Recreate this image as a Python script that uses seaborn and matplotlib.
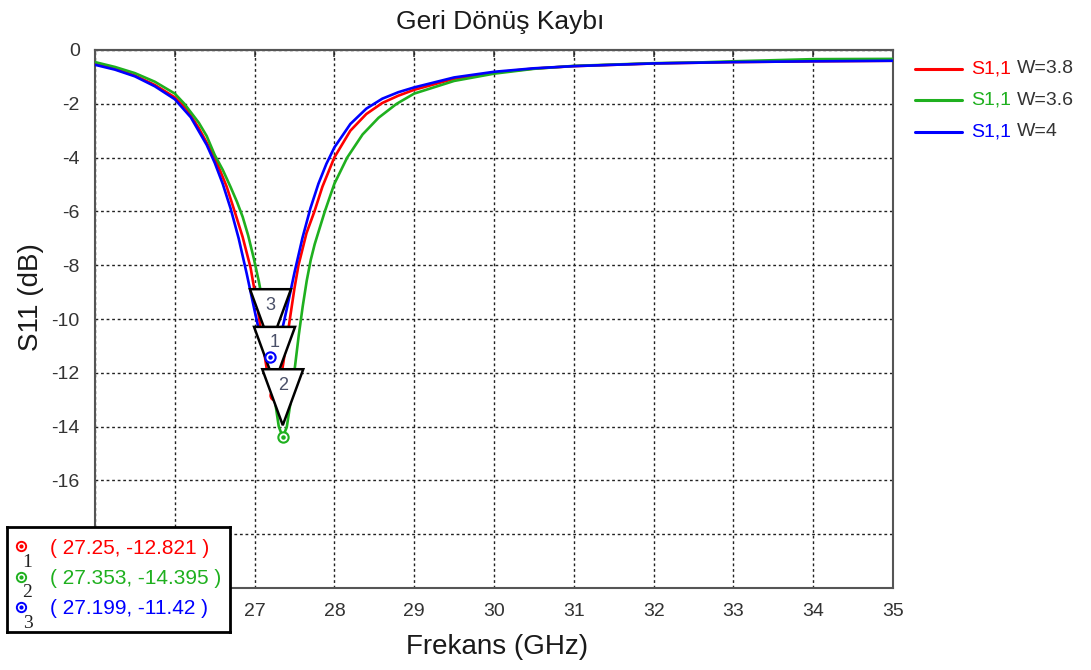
import matplotlib
matplotlib.use("Agg")
import matplotlib.pyplot as plt
import matplotlib.transforms as mtransforms
from matplotlib.patches import Polygon
from matplotlib.lines import Line2D
from matplotlib.offsetbox import (AnchoredOffsetbox, DrawingArea, HPacker,
                                  TextArea, VPacker)
import pandas as pd
import seaborn as sns

# ---- data ---------------------------------------------------------------
series_names = ["W=3.8", "W=3.6", "W=4"]
series_colors = ["#ff0000", "#1fb01f", "#0000ff"]

freq_w38 = [25.0, 25.25, 25.5, 25.75, 26.0, 26.15, 26.3, 26.5, 26.65, 26.75,
            26.85, 26.95, 27.0, 27.05, 27.1, 27.15, 27.2, 27.25, 27.3, 27.35,
            27.4, 27.45, 27.5, 27.55, 27.65, 27.75, 27.85, 28.0, 28.2, 28.4,
            28.6, 28.8, 29.0, 29.5, 30.0, 30.5, 31.0, 32.0, 33.0, 34.0, 35.0]
s11_w38 = [-0.50, -0.70, -0.95, -1.30, -1.76, -2.20, -2.90, -3.99, -5.08,
           -6.00, -6.95, -8.10, -8.95, -9.84, -10.85, -11.82, -12.55, -12.821,
           -12.55, -11.82, -10.85, -9.84, -8.85, -8.00, -6.81, -6.00, -5.08,
           -3.99, -3.00, -2.38, -1.97, -1.70, -1.48, -1.07, -0.84, -0.69,
           -0.60, -0.50, -0.45, -0.42, -0.40]

freq_w36 = [25.0, 25.25, 25.5, 25.75, 26.0, 26.12, 26.3, 26.4, 26.5, 26.6,
            26.7, 26.78, 26.85, 26.92, 26.99, 27.053, 27.1, 27.153, 27.203,
            27.253, 27.303, 27.353, 27.403, 27.453, 27.503, 27.553, 27.603,
            27.653, 27.703, 27.753, 27.88, 28.0, 28.16, 28.353, 28.553, 28.78,
            29.0, 29.5, 30.0, 30.5, 31.0, 32.0, 32.6, 33.0, 34.0, 35.0]
s11_w36 = [-0.45, -0.63, -0.86, -1.18, -1.62, -2.00, -2.70, -3.20, -3.90,
           -4.45, -5.10, -5.65, -6.20, -6.90, -7.75, -8.60, -9.35, -10.45,
           -11.75, -13.00, -14.00, -14.395, -14.02, -13.05, -11.84, -10.61,
           -9.53, -8.58, -7.81, -7.22, -6.00, -4.97, -4.00, -3.14, -2.52,
           -2.00, -1.62, -1.15, -0.88, -0.70, -0.59, -0.49, -0.46, -0.42,
           -0.34, -0.33]

freq_w40 = [25.0, 25.25, 25.5, 25.75, 26.0, 26.2, 26.4, 26.5, 26.6, 26.7,
            26.8, 26.9, 27.0, 27.05, 27.1, 27.15, 27.199, 27.25, 27.3, 27.35,
            27.4, 27.5, 27.6, 27.7, 27.8, 27.9, 28.0, 28.2, 28.4, 28.6, 28.8,
            29.0, 29.5, 30.0, 30.5, 31.0, 32.0, 33.0, 34.0, 35.0]
s11_w40 = [-0.55, -0.73, -0.98, -1.35, -1.83, -2.50, -3.53, -4.19, -4.97,
           -5.90, -7.00, -8.30, -9.69, -10.36, -10.91, -11.29, -11.42, -11.28,
           -10.89, -10.33, -9.67, -8.27, -6.98, -5.88, -4.97, -4.23, -3.62,
           -2.75, -2.18, -1.81, -1.57, -1.39, -1.02, -0.81, -0.68, -0.60,
           -0.50, -0.45, -0.42, -0.40]

# markers: id, frequency (GHz), S11 (dB), trace colour
marker_ids = [1, 2, 3]
marker_freq = [27.25, 27.353, 27.199]
marker_s11 = [-12.821, -14.395, -11.42]
marker_colors = ["#ff0000", "#1fb01f", "#0000ff"]

x_ticks = list(range(25, 36))
y_ticks = list(range(-20, 1, 2))

# ---- style --------------------------------------------------------------
sns.set_theme(style="white")
plt.rcParams["font.family"] = ["Liberation Sans", "DejaVu Sans"]
plt.rcParams["axes.unicode_minus"] = False

fig = plt.figure(figsize=(10.91, 6.70), dpi=100)
W, H = 1091, 670
ax = fig.add_axes([95 / W, 1 - 588 / H, 798 / W, 538 / H])
ax.set_facecolor("white")

df = pd.concat([
    pd.DataFrame({"freq": freq_w38, "s11": s11_w38, "series": series_names[0]}),
    pd.DataFrame({"freq": freq_w36, "s11": s11_w36, "series": series_names[1]}),
    pd.DataFrame({"freq": freq_w40, "s11": s11_w40, "series": series_names[2]}),
], ignore_index=True)

sns.lineplot(data=df, x="freq", y="s11", hue="series", hue_order=series_names,
             palette=series_colors, estimator=None, sort=False, lw=1.9,
             legend=False, ax=ax, zorder=3, solid_joinstyle="round")

ax.set_xlim(25, 35)
ax.set_ylim(-20, 0)
ax.set_xticks(x_ticks)
ax.set_yticks(y_ticks)
ax.grid(True, color="#222222", linestyle=(0, (2, 2)), linewidth=1.0)
for sp in ax.spines.values():
    sp.set_color("#555555")
    sp.set_linewidth(1.5)

ax.tick_params(axis="x", direction="inout", length=7, width=1.2,
               color="#444444", labelsize=14, labelcolor="#333333", pad=7)
ax.tick_params(axis="y", direction="out", length=5, width=1.2,
               color="#444444", labelsize=14, labelcolor="#333333", pad=6)

top = ax.secondary_xaxis("top")
top.set_xticks(x_ticks)
top.tick_params(direction="in", length=5, width=1.2, color="#444444",
                labeltop=False)
top.spines["top"].set_color("#555555")
top.spines["top"].set_linewidth(1.5)

ax.set_title("Geri Dönüş Kaybı", fontsize=19, color="#1a1a1a", pad=15, x=0.508)
ax.set_xlabel("Frekans (GHz)", fontsize=20, color="#1a1a1a")
ax.set_ylabel("S11 (dB)", fontsize=20, color="#1a1a1a")
ax.xaxis.set_label_coords(0.504, -0.085)
ax.yaxis.set_label_coords(-0.064, 0.54)

# ---- legend: coloured trace name followed by the width ---------------------
rows = []
for name, color in zip(series_names, series_colors):
    da = DrawingArea(34, 10, 0, 0)
    da.add_artist(Line2D([0, 34], [5, 5], color=color, lw=2.2))
    t1 = TextArea("S1,1", textprops=dict(color=color, fontsize=14))
    t2 = TextArea(name, textprops=dict(color="#333333", fontsize=14))
    txt = HPacker(children=[t1, t2], align="baseline", pad=0, sep=4)
    rows.append(HPacker(children=[da, txt], align="center", pad=0, sep=6.5))
legend_box = VPacker(children=rows, align="left", pad=0, sep=10.5)
anchored = AnchoredOffsetbox(loc="upper left", child=legend_box, pad=0,
                             borderpad=0, frameon=False,
                             bbox_to_anchor=(915 / W, 1 - 60 / H),
                             bbox_transform=fig.transFigure)
fig.add_artist(anchored)

# ---- marker flags on the curves -----------------------------------------
px = fig.dpi / 100.0
order = sorted(range(len(marker_ids)), key=lambda i: -marker_s11[i])
for rank, i in enumerate(order):
    f, v = marker_freq[i], marker_s11[i]
    anchor = mtransforms.ScaledTranslation(f, v, ax.transData)
    tr = mtransforms.Affine2D().scale(px) + anchor
    tri = Polygon([(-20.5, 68), (20.5, 68), (0, 12)], closed=True,
                  facecolor="white", edgecolor="black", lw=1.8,
                  transform=tr, zorder=5 + rank, clip_on=False)
    ax.add_patch(tri)
    ax.annotate(str(marker_ids[i]), xy=(f, v), xytext=(0, 52 * 0.72),
                textcoords="offset points", ha="center", va="center",
                fontsize=13, color="#4a5068", zorder=5 + rank + 0.1)

for f, v, c in zip(marker_freq, marker_s11, marker_colors):
    ax.scatter([f], [v], s=55, facecolors="white", edgecolors=c,
               linewidths=1.5, zorder=6.5)
    ax.scatter([f], [v], s=5, color=c, zorder=6.6)

# ---- marker readout box --------------------------------------------------
box = fig.add_axes([7 / W, 1 - 632 / H, 223 / W, 105 / H], zorder=10)
box.set_xlim(0, 1)
box.set_ylim(0, 1)
box.set_xticks([])
box.set_yticks([])
box.set_facecolor("white")
for sp in box.spines.values():
    sp.set_color("black")
    sp.set_linewidth(2)

for k, (mid, f, v, c) in enumerate(zip(marker_ids, marker_freq, marker_s11,
                                       marker_colors)):
    yrow = 0.815 - k * 0.29
    box.scatter([0.063], [yrow], s=45, facecolors="white", edgecolors=c,
                linewidths=1.4, zorder=3)
    box.scatter([0.063], [yrow], s=4, color=c, zorder=4)
    box.text(0.092, yrow - 0.15, str(mid), ha="center", va="center",
             fontsize=14, color="#222222", family="Liberation Serif")
    box.text(0.193, yrow - 0.015, f"( {f:g}, {v:g} )", ha="left",
             va="center", fontsize=15, color=c)

fig.savefig("out.png", dpi=100, facecolor="white")
